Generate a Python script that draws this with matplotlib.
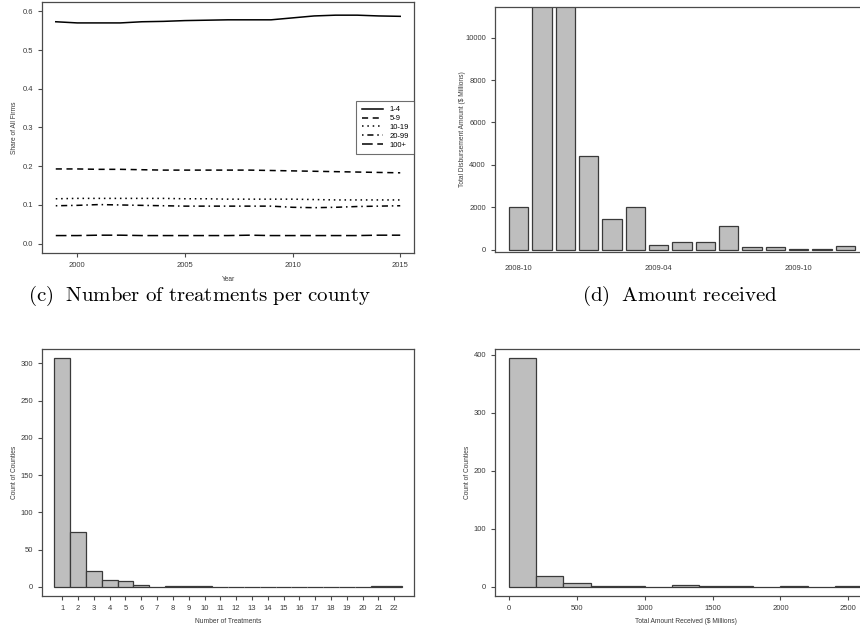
import numpy as np
import matplotlib
matplotlib.use("Agg")
import matplotlib.pyplot as plt

# ---- data -----------------------------------------------------------------
years = list(range(1999, 2016))
share_1_4 = [0.573, 0.570, 0.570, 0.570, 0.573, 0.574, 0.576, 0.577, 0.578,
             0.578, 0.578, 0.583, 0.588, 0.590, 0.590, 0.588, 0.587]
share_5_9 = [0.193, 0.193, 0.192, 0.192, 0.191, 0.190, 0.190, 0.190, 0.190,
             0.190, 0.189, 0.188, 0.187, 0.186, 0.185, 0.184, 0.183]
share_10_19 = [0.116, 0.117, 0.117, 0.117, 0.117, 0.117, 0.116, 0.116, 0.115,
               0.115, 0.115, 0.115, 0.114, 0.113, 0.113, 0.113, 0.113]
share_20_99 = [0.098, 0.099, 0.101, 0.100, 0.099, 0.098, 0.097, 0.097, 0.097,
               0.097, 0.097, 0.094, 0.093, 0.094, 0.096, 0.097, 0.098]
share_100 = [0.021, 0.021, 0.022, 0.022, 0.021, 0.021, 0.021, 0.021, 0.021,
             0.022, 0.021, 0.021, 0.021, 0.021, 0.021, 0.022, 0.022]
size_labels = ["1-4", "5-9", "10-19", "20-99", "100+"]

months = ["2008-10", "2008-11", "2008-12", "2009-01", "2009-02", "2009-03",
          "2009-04", "2009-05", "2009-06", "2009-07", "2009-08", "2009-09",
          "2009-10", "2009-11", "2009-12"]
disbursed = [1990, 14500, 12500, 4410, 1420, 1990, 220, 380, 370, 1135,
             110, 110, 50, 10, 170]
month_labels_shown = ["2008-10", "2009-04", "2009-10"]

n_treatments = list(range(1, 23))
county_counts = [307, 74, 21, 9, 8, 2, 0, 1, 1, 1, 0, 0, 0, 0, 0, 0, 0, 0, 0,
                 0, 1, 1]

amount_bins = list(range(0, 2800, 200))
amount_counts = [394, 18, 6, 1, 1, 0, 3, 1, 1, 0, 1, 0, 1]

# ---- style ----------------------------------------------------------------
plt.rcParams["font.family"] = ["Liberation Sans", "DejaVu Sans"]
BAR = "#bebebe"
EDGE = "#3a3a3a"
AX = "#4a4a4a"
TXT = "#3a3a3a"
TICK_FS = 5.5
LAB_FS = 4.8

W, H = 860, 628
fig = plt.figure(figsize=(W / 100, H / 100), dpi=100)


def box(l, t, r, b):
    return fig.add_axes([l / W, 1 - b / H, (r - l) / W, (b - t) / H])


def style(ax, xticks=True):
    for s in ax.spines.values():
        s.set_color(AX)
        s.set_linewidth(0.9)
    ax.tick_params(colors=AX, labelcolor=TXT, labelsize=TICK_FS, length=3,
                   width=0.8, pad=3.5)
    if not xticks:
        ax.tick_params(axis="x", length=0, pad=9)


def labels(ax, xlabel, ylabel, xpos, ypos):
    # place axis titles at fixed spots (axes fraction), like R's mtext lines
    if xlabel:
        ax.set_xlabel(xlabel, fontsize=LAB_FS, color=TXT)
        ax.xaxis.set_label_coords(0.5, xpos)
        ax.xaxis.label.set_va("center")
    ax.set_ylabel(ylabel, fontsize=LAB_FS, color=TXT)
    ax.yaxis.set_label_coords(ypos, 0.5)
    ax.yaxis.label.set_va("center")


# (top left) share of firms by size
ax1 = box(42, 2, 414, 253)
styles = ["-", (0, (4, 3)), (0, (1, 2.5)), (0, (1, 2.5, 4, 2.5)), (0, (7, 3))]
for vals, lab, ls in zip([share_1_4, share_5_9, share_10_19, share_20_99,
                          share_100], size_labels, styles):
    ax1.plot(years, vals, color="black", linestyle=ls, linewidth=1.1, label=lab)
ax1.set_xlim(1998.36, 2015.64)
ax1.set_ylim(-0.024, 0.624)
ax1.set_xticks([2000, 2005, 2010, 2015])
ax1.set_yticks(np.arange(0, 0.61, 0.1))
ax1.set_yticklabels([f"{v:.1f}" for v in np.arange(0, 0.61, 0.1)])
style(ax1)
labels(ax1, "Year", "Share of All Firms", -0.104, -0.073)
leg = ax1.legend(loc="center right", fontsize=TICK_FS, frameon=True,
                 fancybox=False, borderaxespad=0, handlelength=2.8,
                 labelspacing=0.2, borderpad=0.7, handletextpad=0.8)
leg.get_frame().set_edgecolor(AX)
leg.get_frame().set_linewidth(0.8)

# (top right) monthly disbursements
ax2 = box(495, 7, 869, 252)
pos = np.arange(len(months)) * 1.2 + 0.7
ax2.bar(pos, disbursed, width=1.0, color=BAR, edgecolor=EDGE, linewidth=0.9)
ax2.set_xlim(-0.512, 18.712)
ax2.set_ylim(-115, 11450)
ax2.set_xticks([pos[months.index(m)] for m in month_labels_shown])
ax2.set_xticklabels(month_labels_shown)
ax2.set_yticks(range(0, 10001, 2000))
style(ax2, xticks=False)
labels(ax2, None, "Total Disbursement Amount ($ Millions)", None, -0.088)

# (bottom left) number of treatments per county
ax3 = box(42, 349, 414, 596)
ax3.bar(n_treatments, county_counts, width=1.0, color=BAR, edgecolor=EDGE,
        linewidth=0.9)
ax3.set_xlim(-0.28, 23.25)
ax3.set_ylim(-12.3, 319.3)
ax3.set_xticks(n_treatments)
ax3.set_yticks(range(0, 301, 50))
style(ax3)
labels(ax3, "Number of Treatments", "Count of Counties", -0.105, -0.073)

# (bottom right) amount received per county
ax4 = box(495, 349, 876, 596)
ax4.bar(amount_bins[:-1], amount_counts, width=200, align="edge", color=BAR,
        edgecolor=EDGE, linewidth=0.9)
ax4.set_xlim(-104, 2704)
ax4.set_ylim(-15.8, 409.8)
ax4.set_xticks(range(0, 2501, 500))
ax4.set_yticks(range(0, 401, 100))
style(ax4)
labels(ax4, "Total Amount Received ($ Millions)", "Count of Counties",
       -0.105, -0.071)

# captions
fig.text(200 / W, 1 - 296 / H, r"$\mathrm{(c)\ \ Number\ of\ treatments\ per\ county}$",
         ha="center", va="center", fontsize=15, math_fontfamily="cm")
fig.text(680 / W, 1 - 296 / H, r"$\mathrm{(d)\ \ Amount\ received}$",
         ha="center", va="center", fontsize=15, math_fontfamily="cm")

fig.savefig("out.png", dpi=100)
